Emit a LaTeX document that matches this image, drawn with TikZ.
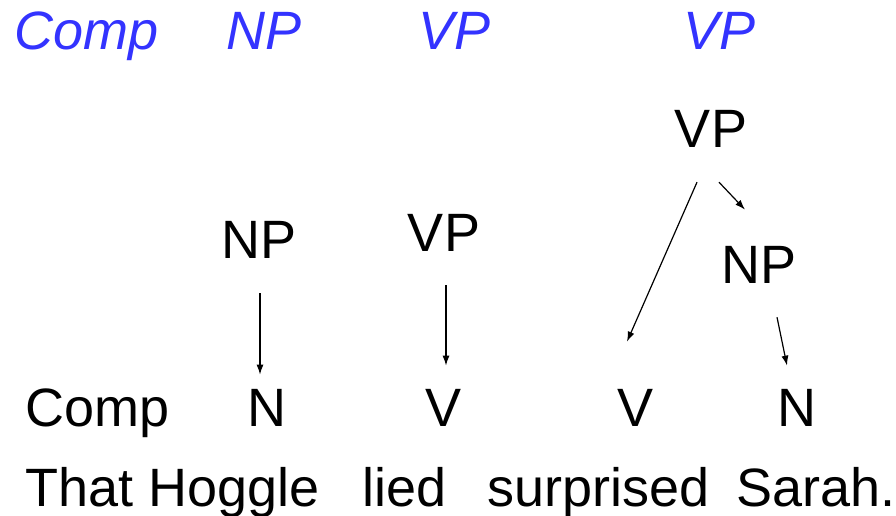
\documentclass[tikz,border=0pt]{standalone}
\usepackage{fontspec}
\setmainfont{Liberation Sans}
\usetikzlibrary{arrows.meta}
\definecolor{labelblue}{RGB}{51,51,255}

\begin{document}
\begin{tikzpicture}[x=1pt,y=-1pt,
	word/.style={inner sep=0pt,anchor=base west,font=\fontsize{54}{60}\selectfont},
	cat/.style={inner sep=0pt,anchor=base,font=\fontsize{54}{60}\selectfont},
	phrase/.style={word,text=labelblue,font=\fontsize{54}{60}\selectfont\itshape},
	branch/.style={-{Latex[length=10pt,width=7pt]},line width=1.2pt}]

	\useasboundingbox (0,0) rectangle (896,516);

	% phrase labels along the top
	\node[phrase] (pcomp) at (14, 50)  {Comp};
	\node[phrase] (pnp)   at (226, 50) {NP};
	\node[phrase] (pvp1)  at (418, 50) {VP};
	\node[phrase] (pvp2)  at (683, 50) {VP};

	% tree
	\node[cat] (vp2) at (711, 147) {VP};
	\node[cat] (np1) at (259, 258) {NP};
	\node[cat] (vp1) at (444, 251) {VP};
	\node[cat] (np2) at (759, 283) {NP};

	\node[word] (comp) at (25, 426) {Comp};
	\node[cat] (n1) at (267, 426) {N};
	\node[cat] (v1) at (444, 426) {V};
	\node[cat] (v2) at (635, 426) {V};
	\node[cat] (n2) at (797, 426) {N};

	% sentence
	\node[word] (that)  at (25, 506)  {That Hoggle};
	\node[word] (lied)  at (362, 506) {lied};
	\node[word] (surp)  at (487, 506) {surprised};
	\node[word] (sarah) at (736, 506) {Sarah.};

	\draw[branch] ([xshift=1pt,yshift=-35pt]np1.south) -- ([xshift=-7pt,yshift=14pt]n1.north);
	\draw[branch] ([xshift=2pt,yshift=-34pt]vp1.south) -- ([xshift=2pt,yshift=23pt]v1.north);
	\draw[branch] ([xshift=-14pt,yshift=-35pt]vp2.south) -- ([xshift=-8pt,yshift=47pt]v2.north);
	\draw[branch] ([xshift=8pt,yshift=-35pt]vp2.south) -- ([xshift=-14pt,yshift=36pt]np2.north);
	\draw[branch] ([xshift=18pt,yshift=-34pt]np2.south) -- ([xshift=-10pt,yshift=23pt]n2.north);

\end{tikzpicture}
\end{document}
